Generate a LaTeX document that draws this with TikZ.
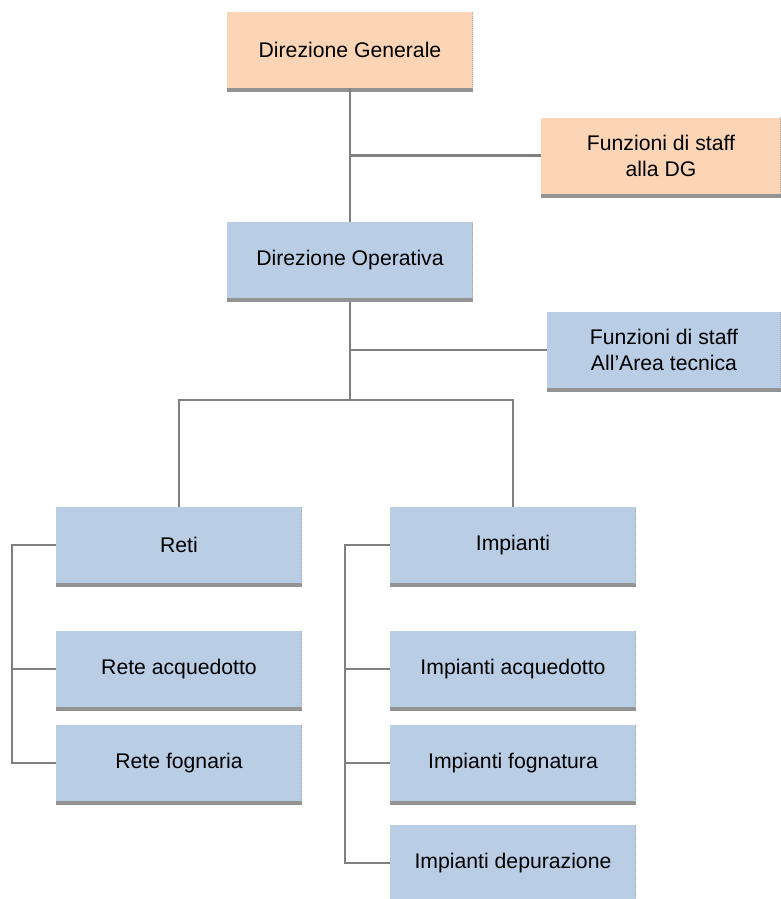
\documentclass[tikz,border=0pt]{standalone}
\usepackage{fontspec}
\setmainfont{Liberation Sans}
\usepackage{tikz}
\usetikzlibrary{calc}
\definecolor{peach}{RGB}{251,213,181}
\definecolor{steel}{RGB}{185,205,229}
\definecolor{wire}{RGB}{128,128,128}
\tikzset{box/.style={rectangle, inner sep=0pt, minimum width=246pt, minimum height=76pt, align=center, font=\fontsize{21.2}{26}\selectfont}}
\tikzset{top/.style={box, fill=peach}}
\tikzset{unit/.style={box, fill=steel}}
\tikzset{link/.style={draw=wire, line width=2.5pt}}

\begin{document}
\begin{tikzpicture}[x=1pt, y=-1pt]
  \useasboundingbox (0,0) rectangle (781,899);
  % top of the chart
  \node [top] (dg) at (350,50) {Direzione Generale};
  \node [top, minimum width=240pt] (sdg) at (661,155.5) {Funzioni di staff\\alla DG};
  \node [unit] (do) at (350,260) {Direzione Operativa};
  \node [unit, minimum width=234pt] (sat) at (664,350) {Funzioni di staff\\All'Area tecnica};
  % two branches
  \node [unit] (reti) at (179,545) {Reti};
  \node [unit] (racq) at (179,669) {Rete acquedotto};
  \node [unit] (rfog) at (179,763) {Rete fognaria};
  \node [unit] (imp) at (513,545) {Impianti};
  \node [unit] (iacq) at (513,669) {Impianti acquedotto};
  \node [unit] (ifog) at (513,763) {Impianti fognatura};
  \node [unit] (idep) at (513,863) {Impianti depurazione};
  % shadows
  \foreach \n in {dg,sdg,do,sat,reti,racq,rfog,imp,iacq,ifog,idep} {
    \fill [gray!85] (\n.south west) rectangle ($(\n.south east)+(0,4)$);
    \draw [gray!70, densely dotted, line width=1pt] ($(\n.north east)+(-0.5,0)$) -- ($(\n.south east)+(-0.5,0)$);
  }
  \coordinate (bar) at (350,400);
  \coordinate (rl) at (12,545);
  \coordinate (il) at (345,545);
  % connectors
  \draw [link] (dg.south) -- (do.north);
  \draw [link] (sdg.west) -- (sdg.west -| dg.south);
  \draw [link] ($(do.south)+(0,4)$) -- (bar);
  \draw [link] (sat.west) -- (sat.west -| do.south);
  \draw [link] (reti.north) |- (bar);
  \draw [link] (imp.north) |- (bar);
  \draw [link] (reti.west) -- (rl) |- (rfog.west);
  \draw [link] (rl) |- (racq.west);
  \draw [link] (imp.west) -- (il) |- (idep.west);
  \draw [link] (il) |- (iacq.west);
  \draw [link] (il) |- (ifog.west);
\end{tikzpicture}
\end{document}
